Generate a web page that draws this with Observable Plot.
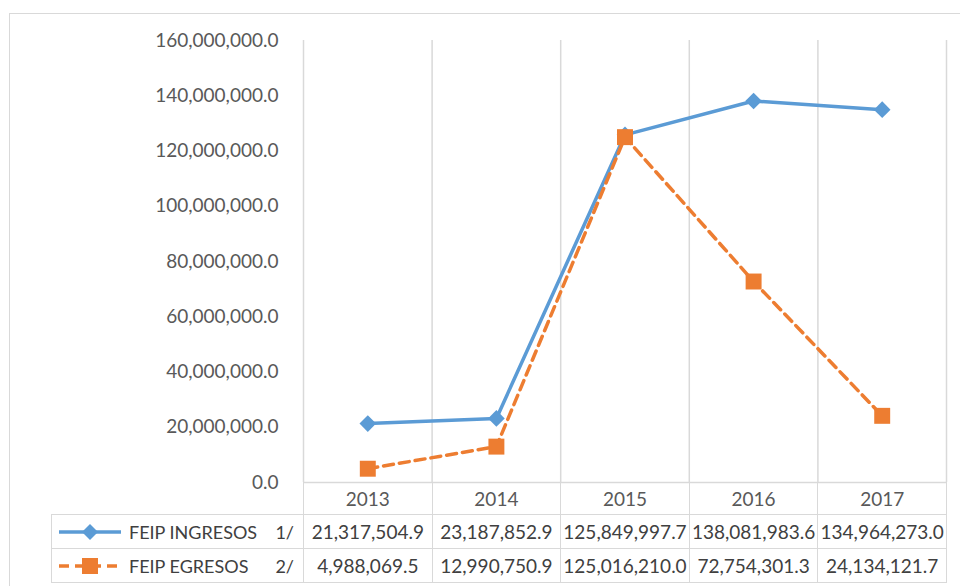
<!DOCTYPE html>
<html>
<head>
<meta charset="utf-8">
<script src="https://cdn.jsdelivr.net/npm/d3@7"></script>
<script src="https://cdn.jsdelivr.net/npm/@observablehq/plot@0.6"></script>
<style>
  html, body { margin: 0; padding: 0; background: #fff; overflow: hidden; }
  #wrap { position: relative; width: 960px; height: 586px; overflow: hidden; background: #fff; font-family: Lato, "Open Sans", sans-serif; }
  #frame { position: absolute; left: 9px; top: 13px; width: 1000px; height: 600px; border: 1.5px solid #d9d9d9; box-sizing: border-box; }
  #chart { position: absolute; left: 0; top: 0; }
  #tbl { position: absolute; border-collapse: collapse; table-layout: fixed; font-size: 19px; color: #404040; }
  #tbl td { border: 1.5px solid #d9d9d9; padding: 0; text-align: center; white-space: nowrap; overflow: visible; }
  #tbl td.blank { border-top: none; border-left: none; }
  #tbl td.lab { text-align: left; font-size: 18px; }
  .lab-inner { display: flex; align-items: center; padding-left: 6px; }
  .lab-name { margin-left: 7px; }
  .lab-note { margin-left: auto; margin-right: 9px; }
</style>
</head>
<body>
<div id="wrap">
  <div id="frame"></div>
  <div id="chart"></div>
</div>
<script>
const years = [2013, 2014, 2015, 2016, 2017];
const ingresos = [21317504.9, 23187852.9, 125849997.7, 138081983.6, 134964273.0];
const egresos = [4988069.5, 12990750.9, 125016210.0, 72754301.3, 24134121.7];
const seriesNames = ["FEIP INGRESOS", "FEIP EGRESOS"];
const seriesNotes = ["1/", "2/"];
const yTicks = [0, 20000000, 40000000, 60000000, 80000000, 100000000, 120000000, 140000000, 160000000];

const blue = "#5b9bd5";
const orange = "#ed7d31";
const fmt = d3.format(",.1f");

const ingData = years.map((y, i) => ({year: y, value: ingresos[i]}));
const egrData = years.map((y, i) => ({year: y, value: egresos[i]}));
const bounds = years.map(y => y - 0.5).concat([years[years.length - 1] + 0.5]);

const chart = Plot.plot({
  width: 960,
  height: 586,
  marginLeft: 303,
  marginRight: 14,
  marginTop: 40,
  marginBottom: 104,
  style: {fontFamily: "Lato, 'Open Sans', sans-serif", fontSize: "19px", color: "#595959", background: "transparent"},
  x: {domain: [bounds[0], bounds[bounds.length - 1]], axis: null},
  y: {domain: [0, 160000000], ticks: yTicks, tickFormat: fmt, tickSize: 0, tickPadding: 25, label: null},
  marks: [
    Plot.ruleX(bounds, {stroke: "#d9d9d9", strokeWidth: 1.5}),
    Plot.ruleY([0], {stroke: "#d9d9d9", strokeWidth: 1.5}),
    Plot.line(ingData, {x: "year", y: "value", stroke: blue, strokeWidth: 3.5}),
    Plot.line(egrData, {x: "year", y: "value", stroke: orange, strokeWidth: 3.5, strokeDasharray: "10,6"}),
    Plot.dot(ingData, {x: "year", y: "value", symbol: "diamond2", r: 7.5, fill: blue, stroke: "none"}),
    Plot.dot(egrData, {x: "year", y: "value", symbol: "square", r: 9, fill: orange, stroke: "none"})
  ]
});
document.getElementById("chart").appendChild(chart);

// Data table below the chart, aligned on the x scale
const xs = chart.scale("x");
const px = bounds.map(b => xs.apply(b));
const yZero = chart.scale("y").apply(0);
const tableLeft = 51;
const tbl = document.createElement("table");
tbl.id = "tbl";
tbl.style.left = tableLeft + "px";
tbl.style.top = yZero + "px";
const colgroup = document.createElement("colgroup");
const widths = [px[0] - tableLeft].concat(px.slice(1).map((p, i) => p - px[i]));
widths.forEach(w => { const c = document.createElement("col"); c.style.width = w + "px"; colgroup.appendChild(c); });
tbl.appendChild(colgroup);
tbl.style.width = (px[px.length - 1] - tableLeft) + "px";

const hdr = document.createElement("tr");
hdr.style.height = "32px";
const blank = document.createElement("td"); blank.className = "blank"; hdr.appendChild(blank);
years.forEach(y => { const td = document.createElement("td"); td.textContent = y; td.style.color = "#595959"; hdr.appendChild(td); });
tbl.appendChild(hdr);

function swatch(color, dashed, shape) {
  const s = `<svg width="64" height="18" style="display:block">` +
    `<line x1="1" y1="9" x2="63" y2="9" stroke="${color}" stroke-width="3.5" ${dashed ? 'stroke-dasharray="10,6"' : ''}/>` +
    (shape === "diamond"
      ? `<path d="M32,1 L40,9 L32,17 L24,9 Z" fill="${color}"/>`
      : `<rect x="24" y="1" width="16" height="16" fill="${color}"/>`) +
    `</svg>`;
  return s;
}

[[ingresos, blue, false, "diamond"], [egresos, orange, true, "square"]].forEach(([vals, color, dashed, shape], k) => {
  const tr = document.createElement("tr");
  tr.style.height = "34px";
  const lab = document.createElement("td");
  lab.className = "lab";
  lab.innerHTML = `<div class="lab-inner">${swatch(color, dashed, shape)}<span class="lab-name">${seriesNames[k]}</span><span class="lab-note">${seriesNotes[k]}</span></div>`;
  tr.appendChild(lab);
  vals.forEach(v => { const td = document.createElement("td"); td.textContent = fmt(v); tr.appendChild(td); });
  tbl.appendChild(tr);
});
document.getElementById("wrap").appendChild(tbl);
</script>
</body>
</html>
